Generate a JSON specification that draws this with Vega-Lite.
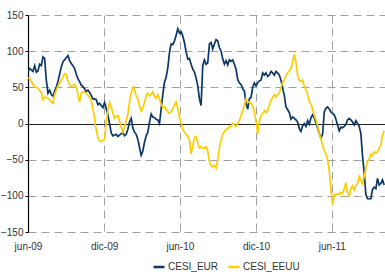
{
 "$schema": "https://vega.github.io/schema/vega-lite/v6.json",
 "width": 357, "height": 217,
 "autosize": {"type": "none"},
 "padding": {"left": 28, "top": 15, "right": 0, "bottom": 40},
 "config": {"view": {"stroke": null}, "font": "Liberation Sans"},
 "data": {"values": [
{"fecha":"2009-06-01","CESI_EUR":72,"CESI_EEUU":63},
{"fecha":"2009-06-05","CESI_EUR":76,"CESI_EEUU":62},
{"fecha":"2009-06-09","CESI_EUR":74,"CESI_EEUU":59},
{"fecha":"2009-06-13","CESI_EUR":72,"CESI_EEUU":54},
{"fecha":"2009-06-17","CESI_EUR":80,"CESI_EEUU":51},
{"fecha":"2009-06-21","CESI_EUR":71,"CESI_EEUU":50},
{"fecha":"2009-06-25","CESI_EUR":73,"CESI_EEUU":49},
{"fecha":"2009-06-29","CESI_EUR":82,"CESI_EEUU":46},
{"fecha":"2009-07-03","CESI_EUR":80,"CESI_EEUU":42},
{"fecha":"2009-07-07","CESI_EUR":92,"CESI_EEUU":33},
{"fecha":"2009-07-11","CESI_EUR":90,"CESI_EEUU":36},
{"fecha":"2009-07-15","CESI_EUR":60,"CESI_EEUU":36},
{"fecha":"2009-07-19","CESI_EUR":42,"CESI_EEUU":35},
{"fecha":"2009-07-23","CESI_EUR":46,"CESI_EEUU":33},
{"fecha":"2009-07-27","CESI_EUR":40,"CESI_EEUU":30},
{"fecha":"2009-07-31","CESI_EUR":38,"CESI_EEUU":28},
{"fecha":"2009-08-04","CESI_EUR":45,"CESI_EEUU":40},
{"fecha":"2009-08-08","CESI_EUR":50,"CESI_EEUU":46},
{"fecha":"2009-08-12","CESI_EUR":58,"CESI_EEUU":52},
{"fecha":"2009-08-16","CESI_EUR":68,"CESI_EEUU":56},
{"fecha":"2009-08-20","CESI_EUR":78,"CESI_EEUU":60},
{"fecha":"2009-08-24","CESI_EUR":85,"CESI_EEUU":64},
{"fecha":"2009-08-28","CESI_EUR":88,"CESI_EEUU":69},
{"fecha":"2009-09-01","CESI_EUR":91,"CESI_EEUU":68},
{"fecha":"2009-09-05","CESI_EUR":94,"CESI_EEUU":58},
{"fecha":"2009-09-09","CESI_EUR":87,"CESI_EEUU":54},
{"fecha":"2009-09-13","CESI_EUR":83,"CESI_EEUU":51},
{"fecha":"2009-09-17","CESI_EUR":80,"CESI_EEUU":53},
{"fecha":"2009-09-21","CESI_EUR":76,"CESI_EEUU":54},
{"fecha":"2009-09-25","CESI_EUR":68,"CESI_EEUU":51},
{"fecha":"2009-09-29","CESI_EUR":62,"CESI_EEUU":40},
{"fecha":"2009-10-03","CESI_EUR":58,"CESI_EEUU":30},
{"fecha":"2009-10-07","CESI_EUR":53,"CESI_EEUU":42},
{"fecha":"2009-10-11","CESI_EUR":51,"CESI_EEUU":44},
{"fecha":"2009-10-15","CESI_EUR":48,"CESI_EEUU":43},
{"fecha":"2009-10-19","CESI_EUR":44,"CESI_EEUU":42},
{"fecha":"2009-10-23","CESI_EUR":46,"CESI_EEUU":39},
{"fecha":"2009-10-27","CESI_EUR":43,"CESI_EEUU":36},
{"fecha":"2009-10-31","CESI_EUR":39,"CESI_EEUU":32},
{"fecha":"2009-11-04","CESI_EUR":34,"CESI_EEUU":20},
{"fecha":"2009-11-08","CESI_EUR":34,"CESI_EEUU":8},
{"fecha":"2009-11-12","CESI_EUR":33,"CESI_EEUU":-9},
{"fecha":"2009-11-16","CESI_EUR":26,"CESI_EEUU":-19},
{"fecha":"2009-11-20","CESI_EUR":28,"CESI_EEUU":-24},
{"fecha":"2009-11-24","CESI_EUR":25,"CESI_EEUU":-25},
{"fecha":"2009-11-28","CESI_EUR":22,"CESI_EEUU":-23},
{"fecha":"2009-12-02","CESI_EUR":29,"CESI_EEUU":-22},
{"fecha":"2009-12-06","CESI_EUR":21,"CESI_EEUU":2},
{"fecha":"2009-12-10","CESI_EUR":12,"CESI_EEUU":18},
{"fecha":"2009-12-14","CESI_EUR":0,"CESI_EEUU":29},
{"fecha":"2009-12-18","CESI_EUR":-13,"CESI_EEUU":23},
{"fecha":"2009-12-22","CESI_EUR":-17,"CESI_EEUU":15},
{"fecha":"2009-12-26","CESI_EUR":-16,"CESI_EEUU":7},
{"fecha":"2009-12-30","CESI_EUR":-15,"CESI_EEUU":10},
{"fecha":"2010-01-03","CESI_EUR":-18,"CESI_EEUU":11},
{"fecha":"2010-01-07","CESI_EUR":-16,"CESI_EEUU":3},
{"fecha":"2010-01-11","CESI_EUR":-14,"CESI_EEUU":-5},
{"fecha":"2010-01-15","CESI_EUR":-13,"CESI_EEUU":-12},
{"fecha":"2010-01-19","CESI_EUR":-17,"CESI_EEUU":-4},
{"fecha":"2010-01-23","CESI_EUR":-15,"CESI_EEUU":4},
{"fecha":"2010-01-27","CESI_EUR":-8,"CESI_EEUU":13},
{"fecha":"2010-01-31","CESI_EUR":2,"CESI_EEUU":30},
{"fecha":"2010-02-04","CESI_EUR":7,"CESI_EEUU":42},
{"fecha":"2010-02-08","CESI_EUR":-6,"CESI_EEUU":50},
{"fecha":"2010-02-12","CESI_EUR":-12,"CESI_EEUU":47},
{"fecha":"2010-02-16","CESI_EUR":-15,"CESI_EEUU":38},
{"fecha":"2010-02-20","CESI_EUR":-22,"CESI_EEUU":34},
{"fecha":"2010-02-24","CESI_EUR":-33,"CESI_EEUU":24},
{"fecha":"2010-02-28","CESI_EUR":-44,"CESI_EEUU":17},
{"fecha":"2010-03-04","CESI_EUR":-38,"CESI_EEUU":22},
{"fecha":"2010-03-08","CESI_EUR":-26,"CESI_EEUU":29},
{"fecha":"2010-03-12","CESI_EUR":-17,"CESI_EEUU":39},
{"fecha":"2010-03-16","CESI_EUR":-12,"CESI_EEUU":42},
{"fecha":"2010-03-20","CESI_EUR":2,"CESI_EEUU":38},
{"fecha":"2010-03-24","CESI_EUR":13,"CESI_EEUU":40},
{"fecha":"2010-03-28","CESI_EUR":9,"CESI_EEUU":44},
{"fecha":"2010-04-01","CESI_EUR":8,"CESI_EEUU":38},
{"fecha":"2010-04-05","CESI_EUR":6,"CESI_EEUU":35},
{"fecha":"2010-04-09","CESI_EUR":5,"CESI_EEUU":40},
{"fecha":"2010-04-13","CESI_EUR":0,"CESI_EEUU":34},
{"fecha":"2010-04-17","CESI_EUR":20,"CESI_EEUU":27},
{"fecha":"2010-04-21","CESI_EUR":40,"CESI_EEUU":22},
{"fecha":"2010-04-25","CESI_EUR":57,"CESI_EEUU":23},
{"fecha":"2010-04-29","CESI_EUR":64,"CESI_EEUU":20},
{"fecha":"2010-05-03","CESI_EUR":77,"CESI_EEUU":16},
{"fecha":"2010-05-07","CESI_EUR":98,"CESI_EEUU":14},
{"fecha":"2010-05-11","CESI_EUR":110,"CESI_EEUU":16},
{"fecha":"2010-05-15","CESI_EUR":109,"CESI_EEUU":21},
{"fecha":"2010-05-19","CESI_EUR":114,"CESI_EEUU":25},
{"fecha":"2010-05-23","CESI_EUR":122,"CESI_EEUU":30},
{"fecha":"2010-05-27","CESI_EUR":131,"CESI_EEUU":21},
{"fecha":"2010-05-31","CESI_EUR":125,"CESI_EEUU":8},
{"fecha":"2010-06-04","CESI_EUR":127,"CESI_EEUU":1},
{"fecha":"2010-06-08","CESI_EUR":121,"CESI_EEUU":-8},
{"fecha":"2010-06-12","CESI_EUR":112,"CESI_EEUU":-12},
{"fecha":"2010-06-16","CESI_EUR":99,"CESI_EEUU":-15},
{"fecha":"2010-06-20","CESI_EUR":89,"CESI_EEUU":-18},
{"fecha":"2010-06-24","CESI_EUR":90,"CESI_EEUU":-22},
{"fecha":"2010-06-28","CESI_EUR":82,"CESI_EEUU":-42},
{"fecha":"2010-07-02","CESI_EUR":75,"CESI_EEUU":-30},
{"fecha":"2010-07-06","CESI_EUR":71,"CESI_EEUU":-19},
{"fecha":"2010-07-10","CESI_EUR":63,"CESI_EEUU":-18},
{"fecha":"2010-07-14","CESI_EUR":52,"CESI_EEUU":-27},
{"fecha":"2010-07-18","CESI_EUR":34,"CESI_EEUU":-34},
{"fecha":"2010-07-22","CESI_EUR":25,"CESI_EEUU":-32},
{"fecha":"2010-07-26","CESI_EUR":80,"CESI_EEUU":-34},
{"fecha":"2010-07-30","CESI_EUR":88,"CESI_EEUU":-34},
{"fecha":"2010-08-03","CESI_EUR":82,"CESI_EEUU":-32},
{"fecha":"2010-08-07","CESI_EUR":84,"CESI_EEUU":-38},
{"fecha":"2010-08-11","CESI_EUR":110,"CESI_EEUU":-53},
{"fecha":"2010-08-15","CESI_EUR":112,"CESI_EEUU":-58},
{"fecha":"2010-08-19","CESI_EUR":103,"CESI_EEUU":-60},
{"fecha":"2010-08-23","CESI_EUR":110,"CESI_EEUU":-58},
{"fecha":"2010-08-27","CESI_EUR":116,"CESI_EEUU":-62},
{"fecha":"2010-08-31","CESI_EUR":114,"CESI_EEUU":-50},
{"fecha":"2010-09-04","CESI_EUR":105,"CESI_EEUU":-34},
{"fecha":"2010-09-08","CESI_EUR":100,"CESI_EEUU":-23},
{"fecha":"2010-09-12","CESI_EUR":89,"CESI_EEUU":-15},
{"fecha":"2010-09-16","CESI_EUR":82,"CESI_EEUU":-11},
{"fecha":"2010-09-20","CESI_EUR":87,"CESI_EEUU":-9},
{"fecha":"2010-09-24","CESI_EUR":81,"CESI_EEUU":-7},
{"fecha":"2010-09-28","CESI_EUR":88,"CESI_EEUU":-4},
{"fecha":"2010-10-02","CESI_EUR":86,"CESI_EEUU":-4},
{"fecha":"2010-10-06","CESI_EUR":88,"CESI_EEUU":0},
{"fecha":"2010-10-10","CESI_EUR":82,"CESI_EEUU":-2},
{"fecha":"2010-10-14","CESI_EUR":75,"CESI_EEUU":-4},
{"fecha":"2010-10-18","CESI_EUR":61,"CESI_EEUU":0},
{"fecha":"2010-10-22","CESI_EUR":56,"CESI_EEUU":4},
{"fecha":"2010-10-26","CESI_EUR":54,"CESI_EEUU":11},
{"fecha":"2010-10-30","CESI_EUR":48,"CESI_EEUU":18},
{"fecha":"2010-11-03","CESI_EUR":45,"CESI_EEUU":25},
{"fecha":"2010-11-07","CESI_EUR":28,"CESI_EEUU":34},
{"fecha":"2010-11-11","CESI_EUR":20,"CESI_EEUU":29},
{"fecha":"2010-11-15","CESI_EUR":34,"CESI_EEUU":30},
{"fecha":"2010-11-19","CESI_EUR":36,"CESI_EEUU":28},
{"fecha":"2010-11-23","CESI_EUR":50,"CESI_EEUU":24},
{"fecha":"2010-11-27","CESI_EUR":56,"CESI_EEUU":17},
{"fecha":"2010-12-01","CESI_EUR":52,"CESI_EEUU":3},
{"fecha":"2010-12-05","CESI_EUR":56,"CESI_EEUU":-14},
{"fecha":"2010-12-09","CESI_EUR":59,"CESI_EEUU":3},
{"fecha":"2010-12-13","CESI_EUR":60,"CESI_EEUU":11},
{"fecha":"2010-12-17","CESI_EUR":70,"CESI_EEUU":14},
{"fecha":"2010-12-21","CESI_EUR":67,"CESI_EEUU":18},
{"fecha":"2010-12-25","CESI_EUR":70,"CESI_EEUU":15},
{"fecha":"2010-12-29","CESI_EUR":65,"CESI_EEUU":18},
{"fecha":"2011-01-02","CESI_EUR":67,"CESI_EEUU":25},
{"fecha":"2011-01-06","CESI_EUR":72,"CESI_EEUU":32},
{"fecha":"2011-01-10","CESI_EUR":70,"CESI_EEUU":36},
{"fecha":"2011-01-14","CESI_EUR":67,"CESI_EEUU":40},
{"fecha":"2011-01-18","CESI_EUR":72,"CESI_EEUU":37},
{"fecha":"2011-01-22","CESI_EUR":70,"CESI_EEUU":40},
{"fecha":"2011-01-26","CESI_EUR":67,"CESI_EEUU":42},
{"fecha":"2011-01-30","CESI_EUR":60,"CESI_EEUU":50},
{"fecha":"2011-02-03","CESI_EUR":49,"CESI_EEUU":57},
{"fecha":"2011-02-07","CESI_EUR":39,"CESI_EEUU":60},
{"fecha":"2011-02-11","CESI_EUR":23,"CESI_EEUU":66},
{"fecha":"2011-02-15","CESI_EUR":19,"CESI_EEUU":70},
{"fecha":"2011-02-19","CESI_EUR":15,"CESI_EEUU":73},
{"fecha":"2011-02-23","CESI_EUR":6,"CESI_EEUU":76},
{"fecha":"2011-02-27","CESI_EUR":9,"CESI_EEUU":85},
{"fecha":"2011-03-03","CESI_EUR":7,"CESI_EEUU":96},
{"fecha":"2011-03-07","CESI_EUR":5,"CESI_EEUU":85},
{"fecha":"2011-03-11","CESI_EUR":2,"CESI_EEUU":66},
{"fecha":"2011-03-15","CESI_EUR":-7,"CESI_EEUU":60},
{"fecha":"2011-03-19","CESI_EUR":-11,"CESI_EEUU":58},
{"fecha":"2011-03-23","CESI_EUR":-3,"CESI_EEUU":60},
{"fecha":"2011-03-27","CESI_EUR":0,"CESI_EEUU":52},
{"fecha":"2011-03-31","CESI_EUR":-4,"CESI_EEUU":47},
{"fecha":"2011-04-04","CESI_EUR":4,"CESI_EEUU":40},
{"fecha":"2011-04-08","CESI_EUR":-1,"CESI_EEUU":31},
{"fecha":"2011-04-12","CESI_EUR":8,"CESI_EEUU":27},
{"fecha":"2011-04-16","CESI_EUR":12,"CESI_EEUU":20},
{"fecha":"2011-04-20","CESI_EUR":8,"CESI_EEUU":11},
{"fecha":"2011-04-24","CESI_EUR":1,"CESI_EEUU":5},
{"fecha":"2011-04-28","CESI_EUR":-6,"CESI_EEUU":-3},
{"fecha":"2011-05-02","CESI_EUR":-13,"CESI_EEUU":-13},
{"fecha":"2011-05-06","CESI_EUR":-20,"CESI_EEUU":-21},
{"fecha":"2011-05-10","CESI_EUR":-15,"CESI_EEUU":-30},
{"fecha":"2011-05-14","CESI_EUR":16,"CESI_EEUU":-38},
{"fecha":"2011-05-18","CESI_EUR":21,"CESI_EEUU":-42},
{"fecha":"2011-05-22","CESI_EUR":23,"CESI_EEUU":-50},
{"fecha":"2011-05-26","CESI_EUR":20,"CESI_EEUU":-65},
{"fecha":"2011-05-30","CESI_EUR":16,"CESI_EEUU":-90},
{"fecha":"2011-06-03","CESI_EUR":14,"CESI_EEUU":-112},
{"fecha":"2011-06-07","CESI_EUR":12,"CESI_EEUU":-98},
{"fecha":"2011-06-11","CESI_EUR":6,"CESI_EEUU":-99},
{"fecha":"2011-06-15","CESI_EUR":-2,"CESI_EEUU":-97},
{"fecha":"2011-06-19","CESI_EUR":-10,"CESI_EEUU":-98},
{"fecha":"2011-06-23","CESI_EUR":-5,"CESI_EEUU":-95},
{"fecha":"2011-06-27","CESI_EUR":-6,"CESI_EEUU":-97},
{"fecha":"2011-07-01","CESI_EUR":-4,"CESI_EEUU":-90},
{"fecha":"2011-07-05","CESI_EUR":-1,"CESI_EEUU":-82},
{"fecha":"2011-07-09","CESI_EUR":5,"CESI_EEUU":-96},
{"fecha":"2011-07-13","CESI_EUR":7,"CESI_EEUU":-100},
{"fecha":"2011-07-17","CESI_EUR":5,"CESI_EEUU":-90},
{"fecha":"2011-07-21","CESI_EUR":2,"CESI_EEUU":-86},
{"fecha":"2011-07-25","CESI_EUR":-2,"CESI_EEUU":-92},
{"fecha":"2011-07-29","CESI_EUR":4,"CESI_EEUU":-86},
{"fecha":"2011-08-02","CESI_EUR":0,"CESI_EEUU":-83},
{"fecha":"2011-08-06","CESI_EUR":-4,"CESI_EEUU":-73},
{"fecha":"2011-08-10","CESI_EUR":-14,"CESI_EEUU":-78},
{"fecha":"2011-08-14","CESI_EUR":-45,"CESI_EEUU":-83},
{"fecha":"2011-08-18","CESI_EUR":-68,"CESI_EEUU":-73},
{"fecha":"2011-08-22","CESI_EUR":-98,"CESI_EEUU":-62},
{"fecha":"2011-08-26","CESI_EUR":-104,"CESI_EEUU":-52},
{"fecha":"2011-08-30","CESI_EUR":-104,"CESI_EEUU":-49},
{"fecha":"2011-09-03","CESI_EUR":-104,"CESI_EEUU":-42},
{"fecha":"2011-09-07","CESI_EUR":-91,"CESI_EEUU":-44},
{"fecha":"2011-09-11","CESI_EUR":-88,"CESI_EEUU":-39},
{"fecha":"2011-09-15","CESI_EUR":-90,"CESI_EEUU":-41},
{"fecha":"2011-09-19","CESI_EUR":-76,"CESI_EEUU":-39},
{"fecha":"2011-09-23","CESI_EUR":-85,"CESI_EEUU":-34},
{"fecha":"2011-09-27","CESI_EUR":-83,"CESI_EEUU":-30},
{"fecha":"2011-10-01","CESI_EUR":-78,"CESI_EEUU":-17},
{"fecha":"2011-10-05","CESI_EUR":-85,"CESI_EEUU":-10}
 ]},
 "transform": [{"fold": ["CESI_EUR", "CESI_EEUU"], "as": ["serie", "valor"]}],
 "mark": {"type": "line", "strokeWidth": 1.7, "clip": true},
 "encoding": {
    "x": {"field": "fecha", "type": "temporal",
      "scale": {"type": "utc", "domain": [{"year": 2009, "month": 6, "date": 1, "utc": true}, {"year": 2011, "month": 10, "date": 7, "utc": true}]},
      "axis": {"title": null, "values": [{"year": 2009, "month": 6, "date": 1, "utc": true}, {"year": 2009, "month": 12, "date": 1, "utc": true}, {"year": 2010, "month": 6, "date": 1, "utc": true}, {"year": 2010, "month": 12, "date": 1, "utc": true}, {"year": 2011, "month": 6, "date": 1, "utc": true}],
        "labelExpr": "(utcmonth(datum.value) == 5 ? 'jun' : 'dic') + '-' + utcFormat(datum.value, '%y')",
        "domain": false, "ticks": false, "grid": true, "gridDash": [8, 5], "gridColor": "#a0a0a0", "gridWidth": 1,
        "labelFontSize": 10, "labelColor": "#333333", "labelPadding": 9, "labelFont": "Liberation Sans", "labelFlush": false}},
    "y": {"field": "valor", "type": "quantitative",
      "scale": {"domain": [-150, 150], "nice": false},
      "axis": {"title": null, "tickCount": 6, "grid": true,
        "gridDash": {"condition": {"test": "datum.value === 0", "value": []}, "value": [8, 5]},
        "gridColor": {"condition": {"test": "datum.value === 0", "value": "#222222"}, "value": "#a0a0a0"},
        "gridWidth": {"condition": {"test": "datum.value === 0", "value": 1.2}, "value": 1},
        "domain": true, "domainColor": "#000000", "domainWidth": 1.2, "ticks": true, "tickSize": 3, "tickColor": "#000000",
        "labelOverlap": false, "labelFlush": false,
        "labelFontSize": 10, "labelColor": "#333333", "labelPadding": 2, "labelFont": "Liberation Sans"}},
    "color": {"field": "serie", "type": "nominal",
      "scale": {"domain": ["CESI_EUR", "CESI_EEUU"], "range": ["#0a3768", "#ffcc00"]},
      "legend": {"title": null, "orient": "none", "legendX": 124, "legendY": 245, "direction": "horizontal", "symbolType": "stroke", "symbolSize": 120, "symbolStrokeWidth": 2.5,
        "labelFontSize": 10, "labelColor": "#333333", "labelFont": "Liberation Sans", "columnPadding": 4, "labelOffset": 2, "padding": 0}}
 }
}
